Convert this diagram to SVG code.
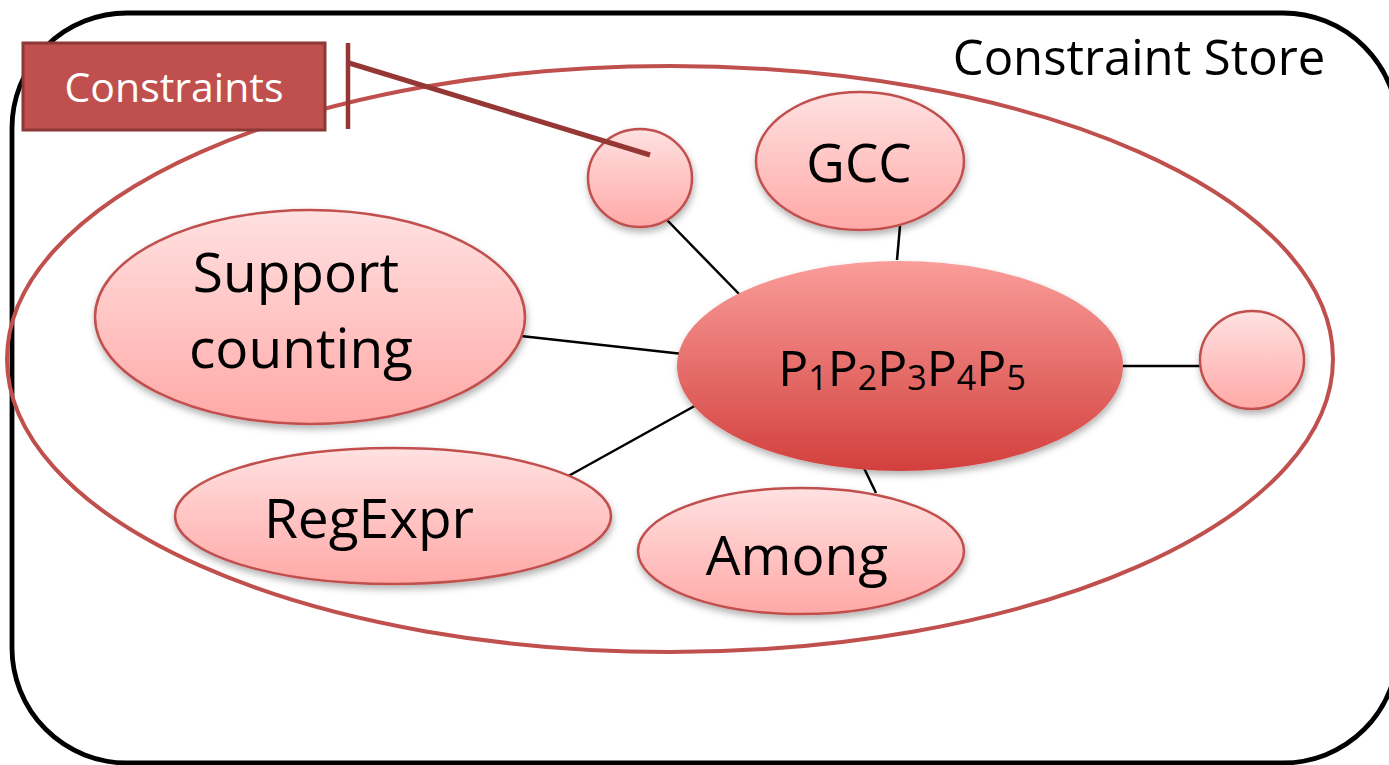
<svg xmlns="http://www.w3.org/2000/svg" width="1389" height="765" viewBox="0 0 1389 765">
  <defs>
    <linearGradient id="gradLight" x1="0" y1="0" x2="0" y2="1">
      <stop offset="0" stop-color="#ffe1e1"/>
      <stop offset="1" stop-color="#ffa9a7"/>
    </linearGradient>
    <linearGradient id="gradCore" x1="0" y1="0" x2="0" y2="1">
      <stop offset="0" stop-color="#fa9d9a"/>
      <stop offset="1" stop-color="#d2403d"/>
    </linearGradient>
    <filter id="shadow" x="-20%" y="-20%" width="140%" height="150%">
      <feDropShadow dx="1" dy="4" stdDeviation="3.5" flood-color="#000" flood-opacity="0.3"/>
    </filter>
    <style>
      .node { fill: url(#gradLight); stroke: #c0504d; stroke-width: 2.5; filter: url(#shadow); }
      .core { fill: url(#gradCore); filter: url(#shadow); }
      .label { font-family: "Open Sans", "Liberation Sans", sans-serif; fill: #000; text-anchor: middle; }
      .edge { stroke: #000; stroke-width: 2.5; fill: none; }
    </style>
  </defs>

  <rect width="1389" height="765" fill="#fff"/>

  <!-- store boundary -->
  <g id="store">
    <rect x="12" y="13" width="1386" height="750" rx="115" ry="115" fill="none" stroke="#000" stroke-width="4.8"/>
    <text class="label" x="1139" y="75" font-size="49">Constraint Store</text>
  </g>

  <!-- constraint set -->
  <ellipse id="constraint-set" cx="670" cy="359" rx="663" ry="293" fill="none" stroke="#c0504d" stroke-width="4"/>

  <g id="connectors">
    <line class="edge" x1="666" y1="219" x2="741" y2="296"/>
    <line class="edge" x1="900" y1="226" x2="897" y2="260"/>
    <line class="edge" x1="521" y1="336" x2="683" y2="354"/>
    <line class="edge" x1="563" y1="479" x2="700" y2="403"/>
    <line class="edge" x1="863" y1="466" x2="876" y2="493"/>
    <line class="edge" x1="1121" y1="366" x2="1201" y2="366"/>
  </g>

  <g id="node-empty-top">
    <ellipse class="node" cx="640" cy="178" rx="52" ry="49"/>
  </g>

  <g id="node-gcc">
    <ellipse class="node" cx="860" cy="161" rx="104" ry="69"/>
    <text class="label" x="859" y="182" font-size="53">GCC</text>
  </g>

  <g id="node-support">
    <ellipse class="node" cx="310" cy="317" rx="215" ry="107"/>
    <text class="label" x="296" y="292" font-size="55">Support</text>
    <text class="label" x="301" y="368" font-size="55">counting</text>
  </g>

  <g id="node-regexpr">
    <ellipse class="node" cx="393" cy="516" rx="218" ry="68"/>
    <text class="label" x="369" y="538" font-size="55">RegExpr</text>
  </g>

  <g id="node-among">
    <ellipse class="node" cx="801" cy="551" rx="163" ry="63"/>
    <text class="label" x="797" y="575" font-size="55">Among</text>
  </g>

  <g id="node-empty-right">
    <ellipse class="node" cx="1252" cy="360" rx="52" ry="49"/>
  </g>

  <g id="node-core">
    <ellipse class="core" cx="900" cy="366" rx="223" ry="105"/>
    <text class="label" x="902" y="386" font-size="50">P<tspan font-size="34" dy="4">1</tspan><tspan dy="-4">P</tspan><tspan font-size="34" dy="4">2</tspan><tspan dy="-4">P</tspan><tspan font-size="34" dy="4">3</tspan><tspan dy="-4">P</tspan><tspan font-size="34" dy="4">4</tspan><tspan dy="-4">P</tspan><tspan font-size="34" dy="4">5</tspan></text>
  </g>

  <!-- callout label -->
  <g id="callout-constraints">
    <line x1="348" y1="43" x2="348" y2="129" stroke="#953735" stroke-width="4.5"/>
    <line x1="349" y1="63" x2="650" y2="155" stroke="#953735" stroke-width="5"/>
    <rect x="23" y="43" width="302" height="87" fill="#c0504d" stroke="#8c3836" stroke-width="3"/>
    <text x="174" y="102" font-size="41" font-family="Open Sans, Liberation Sans, sans-serif" fill="#fff" text-anchor="middle">Constraints</text>
  </g>
</svg>
